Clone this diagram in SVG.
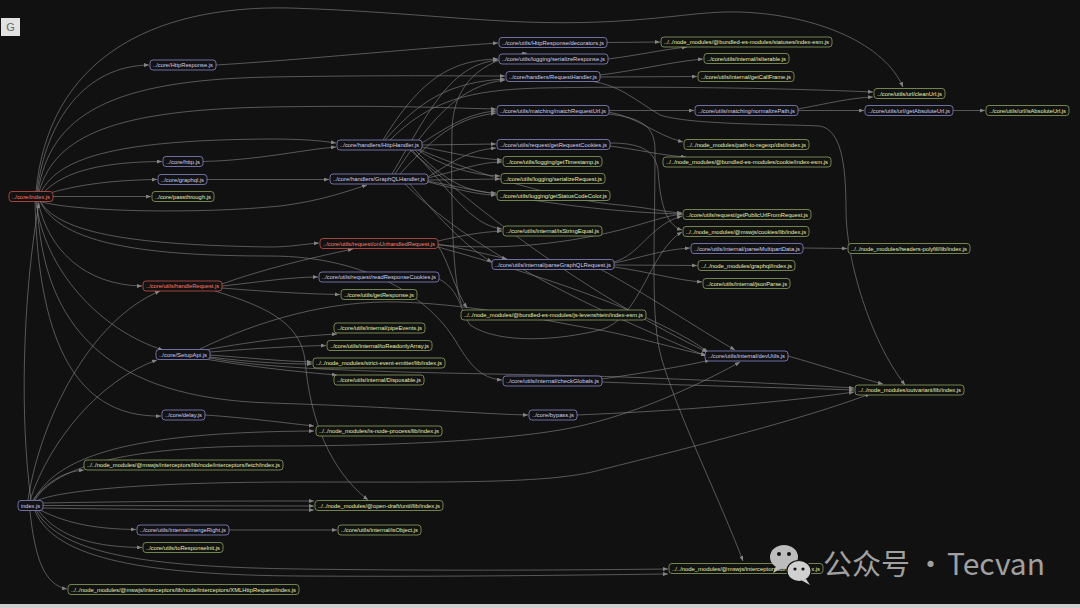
<svg xmlns="http://www.w3.org/2000/svg" width="1080" height="608" viewBox="0 0 1080 608">
<defs>
<marker id="a" viewBox="0 0 10 8" refX="10" refY="4" markerWidth="5" markerHeight="4" markerUnits="userSpaceOnUse" orient="auto"><path d="M0,0 L10,4 L0,8 z" fill="#848484"/></marker>
<style>
.e path{fill:none;stroke:#7e7e7e;stroke-width:0.65;marker-end:url(#a)}
.n rect{fill:#121212;stroke-width:0.8}
.n text{font-family:"Liberation Sans",Arial,sans-serif;font-size:6px;text-anchor:middle}
.p rect{stroke:#8686c8}.p text{fill:#cfcff7}
.g rect{stroke:#8aa25e}.g text{fill:#e2f0b4}
.r rect{stroke:#c4524a}.r text{fill:#ff7a6c}
</style>
</defs>
<rect width="1080" height="608" fill="#111111"/>
<rect x="0" y="604" width="1080" height="4" fill="#cfcfcf"/>
<g id="title"><rect x="1" y="18" width="19" height="18" fill="#e2e2e2"/><text x="10.5" y="31" font-family="Liberation Sans,Arial,sans-serif" font-size="11" fill="#666" text-anchor="middle">G</text></g>

<g class="e" id="edges">
<path d="M36,192 C48,60 150,5 290,8 C420,12 500,26 600,22 C670,19 700,11 740,12 C820,15 885,45 903,87"/>
<path d="M37,192 C46,120 85,66 149,65"/>
<path d="M38,192 C50,115 110,80 270,77 C390,75 460,76 505,76"/>
<path d="M39,192 C55,135 115,110 270,107 C390,105 450,108 496,109"/>
<path d="M41,192 C60,155 125,140 270,139 C305,139 322,141 336,143"/>
<path d="M43,193 C65,170 105,162 162,161.5"/>
<path d="M46,194 C80,184 115,180 157,179.5"/>
<path d="M53,196.5 L151,196.5"/>
<path d="M42,202 C80,212 200,214 280,206 C320,201 345,192 367,185"/>
<path d="M40,201 C60,235 140,245 270,247 C290,247 305,244 319,243"/>
<path d="M38,201 C48,250 85,285 142,286"/>
<path d="M36,201 C44,270 100,330 163,350"/>
<path d="M40,201 C60,245 150,256 270,256 C370,256 430,300 455,340 C470,365 480,378 502,380"/>
<path d="M35,201 C38,330 70,418 161,416"/>
<path d="M37,201 C42,330 110,398 270,403 C400,407 480,414 528,415"/>
<path d="M31,500 C20,420 22,300 39,203"/>

<path d="M216,65 C300,60 420,48 498,43"/>
<path d="M607,42.5 L660,42"/>
<path d="M608,59 C640,55 660,50 687,47"/>
<path d="M203,161.5 C260,160 300,150 336,147"/>
<path d="M207,179.5 L329,179.5"/>

<path d="M385,140 C420,100 450,82 505,79"/>
<path d="M383,140 C420,80 450,60 498,59"/>
<path d="M422,143 C450,125 470,113 496,111"/>
<path d="M422,145 L496,144"/>
<path d="M422,147 C450,152 470,158 502,160"/>
<path d="M418,150 C440,165 470,175 500,176"/>
<path d="M415,150 C440,175 460,192 496,193"/>
<path d="M390,140 C430,100 470,90 540,88 C650,86 780,88 873,92"/>
<path d="M420,150 C480,175 560,200 620,205 C650,208 665,212 682,213"/>
<path d="M412,150 C450,190 470,225 502,229"/>
<path d="M410,150 C500,230 600,300 707,352"/>

<path d="M395,174 C430,120 460,85 505,80"/>
<path d="M392,174 C430,110 450,65 498,60"/>
<path d="M400,174 C440,130 460,118 496,113"/>
<path d="M428,177 C455,160 470,150 496,148"/>
<path d="M428,178 C460,170 480,162 502,162"/>
<path d="M428,180 L500,179"/>
<path d="M428,182 C460,190 480,195 496,195"/>
<path d="M410,184 C440,220 470,250 492,262"/>
<path d="M405,184 C480,260 620,320 706,356"/>
<path d="M428,181 C520,200 600,212 682,214"/>

<path d="M600,75 C640,70 670,62 703,59"/>
<path d="M600,77 L697,76.5"/>
<path d="M590,81 C620,85 635,100 660,115 C690,125 780,124 820,126 C840,130 846,160 846,210 C846,260 870,340 905,385"/>
<path d="M609,110.5 L694,110.5"/>
<path d="M609,112 C640,118 655,135 683,142"/>
<path d="M609,114 C640,118 655,125 655,150 C655,250 650,320 662,360 C680,420 720,500 743,561"/>
<path d="M798,109 C830,103 850,98 873,97"/>
<path d="M798,110.5 L864,110.5"/>
<path d="M953,110.5 L985,110.5"/>
<path d="M610,146 C640,150 660,155 686,157"/>
<path d="M610,143 C640,143 655,150 658,170 C660,200 665,225 682,230"/>

<path d="M614,262 C640,255 650,225 682,216"/>
<path d="M614,263 C640,258 660,250 690,248"/>
<path d="M614,265 L697,265.5"/>
<path d="M614,267 C650,272 675,280 702,282"/>
<path d="M600,269 C640,290 700,330 735,350"/>
<path d="M803,248 L847,248.5"/>

<path d="M438,244 C470,250 490,255 507,259"/>
<path d="M438,241 C460,236 480,232 502,231"/>
<path d="M438,245 C500,250 560,245 620,230 C650,222 665,216 682,214"/>
<path d="M438,246 C448,260 455,290 467,308"/>
<path d="M462,306 C452,280 451,200 452,130 C453,85 480,60 527,53"/>
<path d="M438,247 C520,270 620,300 690,340 C700,346 705,350 708,352"/>

<path d="M222,284 C260,270 310,258 353,249"/>
<path d="M222,286 C260,282 290,277 318,277"/>
<path d="M222,288 C270,292 310,294 340,294.5"/>
<path d="M215,291 C260,305 300,320 305,360 C310,420 330,470 368,500"/>
<path d="M439,279 C460,290 460,310 470,325 C500,345 560,340 600,330 C640,320 650,250 682,232"/>

<path d="M205,350 C260,340 300,336 337,334"/>
<path d="M210,352 C260,348 300,346 326,345.5"/>
<path d="M210,355 C250,358 280,361 312,362"/>
<path d="M210,357 C250,362 280,364 312,364"/>
<path d="M205,359 C260,368 300,372 337,375"/>
<path d="M200,349 C260,320 330,300 400,302 C480,305 540,320 600,330 C650,340 680,350 706,355"/>
<path d="M210,358 C300,375 500,372 650,378 C750,382 820,386 854,388"/>

<path d="M788,356 C820,365 860,378 883,384"/>
<path d="M602,382 C700,386 800,388 854,390"/>
<path d="M602,379 C650,372 690,365 710,360"/>
<path d="M577,415 C700,410 800,400 854,392"/>
<path d="M205,415 C250,418 285,423 314,426"/>
<path d="M229,530 L337,530"/>

<path d="M28,500 C40,420 90,320 160,291"/>
<path d="M30,500 C50,440 100,380 157,360"/>
<path d="M33,500 C45,485 60,472 84,470"/>
<path d="M34,500 C60,450 150,432 314,431"/>
<path d="M35,500 C60,460 150,446 270,446 C400,446 500,440 560,430 C620,420 690,390 740,362"/>
<path d="M36,501 C60,490 150,482 300,482 C450,482 550,484 600,470 C700,445 800,420 870,394"/>
<path d="M43,503 C150,501 250,501 314,501"/>
<path d="M43,505.5 L314,506"/>
<path d="M43,508 C150,510 250,510 314,510"/>
<path d="M40,510 C70,525 100,529 136,529.5"/>
<path d="M38,510 C60,540 100,547 142,547.5"/>
<path d="M36,510 C60,555 150,567 300,569 C450,571 580,570 668,569"/>
<path d="M35,511 C55,560 150,575 300,576 C450,577 580,575 668,574"/>
<path d="M30,511 C35,560 45,585 67,589"/>
</g>

<g id="n-HttpResponse" class="n p"><rect x="150" y="60" width="66" height="10" rx="3"/><text x="183" y="67.1" textLength="60" lengthAdjust="spacingAndGlyphs">../core/HttpResponse.js</text></g>
<g id="n-http" class="n p"><rect x="163" y="156.5" width="40" height="10" rx="3"/><text x="183" y="163.6" textLength="34" lengthAdjust="spacingAndGlyphs">../core/http.js</text></g>
<g id="n-graphql" class="n p"><rect x="158" y="174.5" width="49" height="10" rx="3"/><text x="182.5" y="181.6" textLength="43" lengthAdjust="spacingAndGlyphs">../core/graphql.js</text></g>
<g id="n-passthrough" class="n g"><rect x="152" y="191.5" width="62" height="10" rx="3"/><text x="183" y="198.6" textLength="56" lengthAdjust="spacingAndGlyphs">../core/passthrough.js</text></g>
<g id="n-coreindex" class="n r"><rect x="9" y="191.5" width="44" height="10" rx="3"/><text x="31" y="198.6" textLength="38" lengthAdjust="spacingAndGlyphs">../core/index.js</text></g>
<g id="n-decorators" class="n p"><rect x="499" y="37.5" width="108" height="10" rx="3"/><text x="553" y="44.6" textLength="102" lengthAdjust="spacingAndGlyphs">../core/utils/HttpResponse/decorators.js</text></g>
<g id="n-serializeResponse" class="n p"><rect x="499" y="54" width="109" height="10" rx="3"/><text x="553.5" y="61.1" textLength="103" lengthAdjust="spacingAndGlyphs">../core/utils/logging/serializeResponse.js</text></g>
<g id="n-RequestHandler" class="n p"><rect x="506" y="71.5" width="94" height="10" rx="3"/><text x="553" y="78.6" textLength="88" lengthAdjust="spacingAndGlyphs">../core/handlers/RequestHandler.js</text></g>
<g id="n-matchRequestUrl" class="n p"><rect x="497" y="105.5" width="112" height="10" rx="3"/><text x="553" y="112.6" textLength="106" lengthAdjust="spacingAndGlyphs">../core/utils/matching/matchRequestUrl.js</text></g>
<g id="n-HttpHandler" class="n p"><rect x="337" y="140" width="85" height="10" rx="3"/><text x="379.5" y="147.1" textLength="79" lengthAdjust="spacingAndGlyphs">../core/handlers/HttpHandler.js</text></g>
<g id="n-getRequestCookies" class="n p"><rect x="497" y="139.5" width="113" height="10" rx="3"/><text x="553.5" y="146.6" textLength="107" lengthAdjust="spacingAndGlyphs">../core/utils/request/getRequestCookies.js</text></g>
<g id="n-getTimestamp" class="n g"><rect x="503" y="156.5" width="99" height="10" rx="3"/><text x="552.5" y="163.6" textLength="93" lengthAdjust="spacingAndGlyphs">../core/utils/logging/getTimestamp.js</text></g>
<g id="n-serializeRequest" class="n g"><rect x="501" y="173.5" width="104" height="10" rx="3"/><text x="553" y="180.6" textLength="98" lengthAdjust="spacingAndGlyphs">../core/utils/logging/serializeRequest.js</text></g>
<g id="n-getStatusCodeColor" class="n g"><rect x="497" y="190.5" width="113" height="10" rx="3"/><text x="553.5" y="197.6" textLength="107" lengthAdjust="spacingAndGlyphs">../core/utils/logging/getStatusCodeColor.js</text></g>
<g id="n-GraphQLHandler" class="n p"><rect x="330" y="174" width="98" height="10" rx="3"/><text x="379" y="181.1" textLength="92" lengthAdjust="spacingAndGlyphs">../core/handlers/GraphQLHandler.js</text></g>
<g id="n-statuses" class="n g"><rect x="661" y="37" width="171" height="10" rx="3"/><text x="746.5" y="44.1" textLength="165" lengthAdjust="spacingAndGlyphs">../../node_modules/@bundled-es-modules/statuses/index-esm.js</text></g>
<g id="n-isIterable" class="n g"><rect x="704" y="53.5" width="85" height="10" rx="3"/><text x="746.5" y="60.6" textLength="79" lengthAdjust="spacingAndGlyphs">../core/utils/internal/isIterable.js</text></g>
<g id="n-getCallFrame" class="n g"><rect x="698" y="71.5" width="96" height="10" rx="3"/><text x="746" y="78.6" textLength="90" lengthAdjust="spacingAndGlyphs">../core/utils/internal/getCallFrame.js</text></g>
<g id="n-normalizePath" class="n p"><rect x="695" y="105.5" width="103" height="10" rx="3"/><text x="746.5" y="112.6" textLength="97" lengthAdjust="spacingAndGlyphs">../core/utils/matching/normalizePath.js</text></g>
<g id="n-pathToRegexp" class="n g"><rect x="684" y="139.5" width="125" height="10" rx="3"/><text x="746.5" y="146.6" textLength="119" lengthAdjust="spacingAndGlyphs">../../node_modules/path-to-regexp/dist/index.js</text></g>
<g id="n-cookie" class="n g"><rect x="663" y="157" width="168" height="10" rx="3"/><text x="747" y="164.1" textLength="162" lengthAdjust="spacingAndGlyphs">../../node_modules/@bundled-es-modules/cookie/index-esm.js</text></g>
<g id="n-cleanUrl" class="n g"><rect x="874" y="88.5" width="71" height="10" rx="3"/><text x="909.5" y="95.6" textLength="65" lengthAdjust="spacingAndGlyphs">../core/utils/url/cleanUrl.js</text></g>
<g id="n-getAbsoluteUrl" class="n p"><rect x="865" y="105.5" width="88" height="10" rx="3"/><text x="909" y="112.6" textLength="82" lengthAdjust="spacingAndGlyphs">../core/utils/url/getAbsoluteUrl.js</text></g>
<g id="n-isAbsoluteUrl" class="n g"><rect x="986" y="105.5" width="83" height="10" rx="3"/><text x="1027.5" y="112.6" textLength="77" lengthAdjust="spacingAndGlyphs">../core/utils/url/isAbsoluteUrl.js</text></g>
<g id="n-handleRequest" class="n r"><rect x="143" y="281" width="79" height="10" rx="3"/><text x="182.5" y="288.1" textLength="73" lengthAdjust="spacingAndGlyphs">../core/utils/handleRequest.js</text></g>
<g id="n-SetupApi" class="n p"><rect x="156" y="349.5" width="54" height="10" rx="3"/><text x="183" y="356.6" textLength="48" lengthAdjust="spacingAndGlyphs">../core/SetupApi.js</text></g>
<g id="n-onUnhandledRequest" class="n r"><rect x="320" y="238.5" width="118" height="10" rx="3"/><text x="379" y="245.6" textLength="112" lengthAdjust="spacingAndGlyphs">../core/utils/request/onUnhandledRequest.js</text></g>
<g id="n-readResponseCookies" class="n p"><rect x="319" y="272" width="120" height="10" rx="3"/><text x="379" y="279.1" textLength="114" lengthAdjust="spacingAndGlyphs">../core/utils/request/readResponseCookies.js</text></g>
<g id="n-getResponse" class="n g"><rect x="341" y="289.5" width="76" height="10" rx="3"/><text x="379" y="296.6" textLength="70" lengthAdjust="spacingAndGlyphs">../core/utils/getResponse.js</text></g>
<g id="n-pipeEvents" class="n g"><rect x="334" y="323" width="91" height="10" rx="3"/><text x="379.5" y="330.1" textLength="85" lengthAdjust="spacingAndGlyphs">../core/utils/internal/pipeEvents.js</text></g>
<g id="n-toReadonlyArray" class="n g"><rect x="327" y="340.5" width="105" height="10" rx="3"/><text x="379.5" y="347.6" textLength="99" lengthAdjust="spacingAndGlyphs">../core/utils/internal/toReadonlyArray.js</text></g>
<g id="n-strictEventEmitter" class="n g"><rect x="313" y="358" width="132" height="10" rx="3"/><text x="379" y="365.1" textLength="126" lengthAdjust="spacingAndGlyphs">../../node_modules/strict-event-emitter/lib/index.js</text></g>
<g id="n-Disposable" class="n g"><rect x="334" y="375" width="90" height="10" rx="3"/><text x="379" y="382.1" textLength="84" lengthAdjust="spacingAndGlyphs">../core/utils/internal/Disposable.js</text></g>
<g id="n-isStringEqual" class="n g"><rect x="503" y="226" width="99" height="10" rx="3"/><text x="552.5" y="233.1" textLength="93" lengthAdjust="spacingAndGlyphs">../core/utils/internal/isStringEqual.js</text></g>
<g id="n-parseGraphQLRequest" class="n p"><rect x="492" y="259.5" width="122" height="10" rx="3"/><text x="553" y="266.6" textLength="116" lengthAdjust="spacingAndGlyphs">../core/utils/internal/parseGraphQLRequest.js</text></g>
<g id="n-levenshtein" class="n g"><rect x="461" y="310" width="185" height="10" rx="3"/><text x="553.5" y="317.1" textLength="179" lengthAdjust="spacingAndGlyphs">../../node_modules/@bundled-es-modules/js-levenshtein/index-esm.js</text></g>
<g id="n-getPublicUrl" class="n g"><rect x="683" y="209.5" width="128" height="10" rx="3"/><text x="747" y="216.6" textLength="122" lengthAdjust="spacingAndGlyphs">../core/utils/request/getPublicUrlFromRequest.js</text></g>
<g id="n-mswjsCookies" class="n g"><rect x="683" y="226.5" width="126" height="10" rx="3"/><text x="746" y="233.6" textLength="120" lengthAdjust="spacingAndGlyphs">../../node_modules/@mswjs/cookies/lib/index.js</text></g>
<g id="n-parseMultipartData" class="n p"><rect x="691" y="243.5" width="112" height="10" rx="3"/><text x="747" y="250.6" textLength="106" lengthAdjust="spacingAndGlyphs">../core/utils/internal/parseMultipartData.js</text></g>
<g id="n-graphqlMod" class="n g"><rect x="698" y="260.5" width="97" height="10" rx="3"/><text x="746.5" y="267.6" textLength="91" lengthAdjust="spacingAndGlyphs">../../node_modules/graphql/index.js</text></g>
<g id="n-jsonParse" class="n g"><rect x="703" y="278.5" width="87" height="10" rx="3"/><text x="746.5" y="285.6" textLength="81" lengthAdjust="spacingAndGlyphs">../core/utils/internal/jsonParse.js</text></g>
<g id="n-headersPolyfill" class="n g"><rect x="848" y="243.5" width="122" height="10" rx="3"/><text x="909" y="250.6" textLength="116" lengthAdjust="spacingAndGlyphs">../../node_modules/headers-polyfill/lib/index.js</text></g>
<g id="n-devUtils" class="n p"><rect x="705" y="351" width="83" height="10" rx="3"/><text x="746.5" y="358.1" textLength="77" lengthAdjust="spacingAndGlyphs">../core/utils/internal/devUtils.js</text></g>
<g id="n-checkGlobals" class="n p"><rect x="503" y="376" width="99" height="10" rx="3"/><text x="552.5" y="383.1" textLength="93" lengthAdjust="spacingAndGlyphs">../core/utils/internal/checkGlobals.js</text></g>
<g id="n-outvariant" class="n g"><rect x="855" y="385" width="109" height="10" rx="3"/><text x="909.5" y="392.1" textLength="103" lengthAdjust="spacingAndGlyphs">../../node_modules/outvariant/lib/index.js</text></g>
<g id="n-delay" class="n p"><rect x="162" y="410" width="43" height="10" rx="3"/><text x="183.5" y="417.1" textLength="37" lengthAdjust="spacingAndGlyphs">../core/delay.js</text></g>
<g id="n-bypass" class="n p"><rect x="529" y="410" width="48" height="10" rx="3"/><text x="553" y="417.1" textLength="42" lengthAdjust="spacingAndGlyphs">../core/bypass.js</text></g>
<g id="n-isNodeProcess" class="n g"><rect x="316" y="426" width="126" height="10" rx="3"/><text x="379" y="433.1" textLength="120" lengthAdjust="spacingAndGlyphs">../../node_modules/is-node-process/lib/index.js</text></g>
<g id="n-fetchInterceptor" class="n g"><rect x="84" y="460" width="199" height="10" rx="3"/><text x="183.5" y="467.1" textLength="193" lengthAdjust="spacingAndGlyphs">../../node_modules/@mswjs/interceptors/lib/node/interceptors/fetch/index.js</text></g>
<g id="n-index" class="n p"><rect x="18" y="500.5" width="25" height="10" rx="3"/><text x="30.5" y="507.6" textLength="19" lengthAdjust="spacingAndGlyphs">index.js</text></g>
<g id="n-until" class="n g"><rect x="315" y="500.5" width="128" height="10" rx="3"/><text x="379" y="507.6" textLength="122" lengthAdjust="spacingAndGlyphs">../../node_modules/@open-draft/until/lib/index.js</text></g>
<g id="n-mergeRight" class="n p"><rect x="137" y="525" width="92" height="10" rx="3"/><text x="183" y="532.1" textLength="86" lengthAdjust="spacingAndGlyphs">../core/utils/internal/mergeRight.js</text></g>
<g id="n-isObject" class="n g"><rect x="338" y="525" width="83" height="10" rx="3"/><text x="379.5" y="532.1" textLength="77" lengthAdjust="spacingAndGlyphs">../core/utils/internal/isObject.js</text></g>
<g id="n-toResponseInit" class="n g"><rect x="143" y="542.5" width="80" height="10" rx="3"/><text x="183" y="549.6" textLength="74" lengthAdjust="spacingAndGlyphs">../core/utils/toResponseInit.js</text></g>
<g id="n-interceptorsNode" class="n g"><rect x="669" y="563.5" width="154" height="10" rx="3"/><text x="746" y="570.6" textLength="148" lengthAdjust="spacingAndGlyphs">../../node_modules/@mswjs/interceptors/lib/node/index.js</text></g>
<g id="n-xhr" class="n g"><rect x="68" y="584.5" width="231" height="10" rx="3"/><text x="183.5" y="591.6" textLength="225" lengthAdjust="spacingAndGlyphs">../../node_modules/@mswjs/interceptors/lib/node/interceptors/XMLHttpRequest/index.js</text></g>

<g id="watermark">
<ellipse cx="784" cy="557" rx="14" ry="12" fill="#bdbdbd"/>
<path d="M776,566 L773,573 L782,568 z" fill="#bdbdbd"/>
<circle cx="779" cy="554" r="2" fill="#111"/><circle cx="789" cy="554" r="2" fill="#111"/>
<ellipse cx="799" cy="571" rx="12" ry="10.5" fill="#d0d0d0" stroke="#111" stroke-width="1.2"/>
<path d="M806,579 L810,585 L801,580 z" fill="#d0d0d0"/>
<circle cx="795" cy="569" r="1.6" fill="#111"/><circle cx="803" cy="569" r="1.6" fill="#111"/>
<text x="823" y="575" font-family="Noto Sans CJK SC,Noto Sans,sans-serif" font-size="29" fill="#a0a0a0">公众号<tspan x="916">·</tspan><tspan x="947" font-size="30">Tecvan</tspan></text>
</g>
</svg>
